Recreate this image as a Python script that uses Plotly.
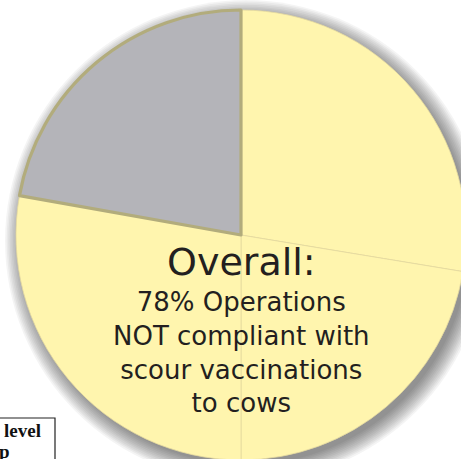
import plotly.graph_objects as go

W, H = 472, 468  # slightly larger than the window; the right/bottom edge is cropped like the reference

# data
slice_labels = ["Not compliant A", "Not compliant B", "Not compliant C", "Compliant"]
slice_values = [27.6, 22.4, 27.8, 22.2]
slice_colors = ["#FFF5AE", "#FFF5AE", "#FFF5AE", "#B4B4B9"]
title_text = "Overall:"
body_lines = ["78% Operations", "NOT compliant with", "scour vaccinations", "to cows"]
box_lines = ["level", "p"]

# geometry (page pixels)
cx, cy, r = 241, 235, 225

def px(x):
    return x / W

def py(y):
    return 1 - y / H

fig = go.Figure()

# drop shadow (decorative circles, below)
shapes = []
n = 12
for i in range(n):
    rr = r + 16 - i * 1.6
    shapes.append(dict(type="circle", xref="paper", yref="paper", layer="below",
                       x0=px(cx + 5 - rr), x1=px(cx + 5 + rr),
                       y0=py(cy + 6 + rr), y1=py(cy + 6 - rr),
                       line=dict(width=0), fillcolor="rgba(0,0,0,0.045)"))

fig.add_trace(go.Pie(
    labels=slice_labels, values=slice_values, sort=False, direction="clockwise",
    rotation=0, textinfo="none", textposition="none", hoverinfo="none", showlegend=False,
    marker=dict(colors=slice_colors,
                line=dict(color=["#E4D9A0", "#E4D9A0", "#E4D9A0", "#B2AC7C"],
                          width=[0.8, 0.8, 0.8, 3.2])),
    domain=dict(x=[px(cx - r), px(cx + r)], y=[py(cy + r), py(cy - r)]),
))

shapes.append(dict(type="rect", xref="paper", yref="paper", layer="above",
                   x0=px(-10), x1=px(55), y0=py(490), y1=py(418),
                   line=dict(color="#222", width=1.2), fillcolor="white"))

ann = []
ann.append(dict(text=title_text, x=px(241), y=py(262), xref="paper", yref="paper",
                showarrow=False, xanchor="center", yanchor="middle",
                font=dict(family="DejaVu Sans", size=38, color="#231F20")))
ann.append(dict(text="<br>".join(body_lines), x=px(242), y=py(352), xref="paper", yref="paper",
                showarrow=False, xanchor="center", yanchor="middle", align="center",
                font=dict(family="DejaVu Sans", size=26, color="#231F20")))
ann.append(dict(text="<b>" + box_lines[0] + "</b>", x=px(43), y=py(430), xref="paper", yref="paper",
                showarrow=False, xanchor="right", yanchor="middle",
                font=dict(family="Liberation Serif", size=19, color="#111")))
ann.append(dict(text="<b>" + box_lines[1] + "</b>", x=px(-3), y=py(451), xref="paper", yref="paper",
                showarrow=False, xanchor="left", yanchor="middle",
                font=dict(family="Liberation Serif", size=19, color="#111")))

fig.update_layout(width=W, height=H, margin=dict(l=0, r=0, t=0, b=0),
                  paper_bgcolor="white", plot_bgcolor="white",
                  shapes=shapes, annotations=ann)

fig.write_html("out.html", config={"displayModeBar": False},
               post_script="document.body.style.margin='0';document.body.style.overflow='hidden';")
